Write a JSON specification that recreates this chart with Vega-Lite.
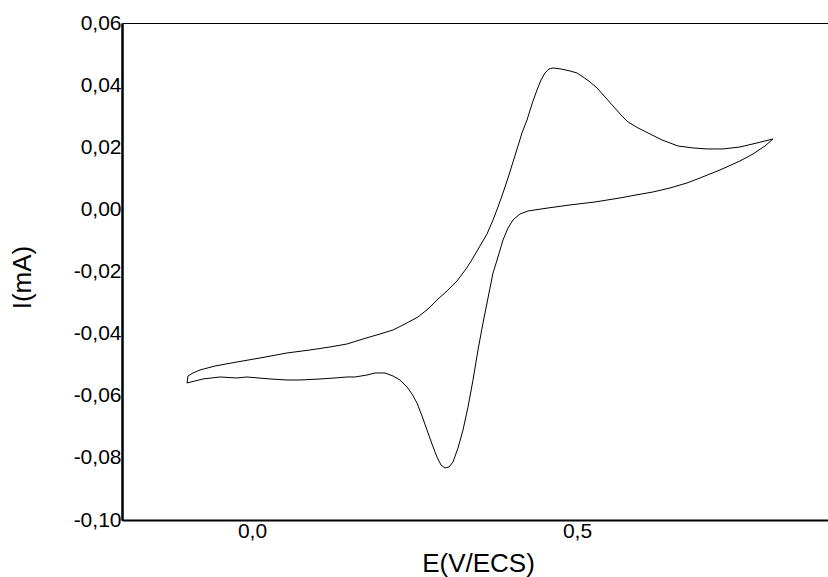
{
  "$schema": "https://vega.github.io/schema/vega-lite/v6.json",
  "width": 715,
  "height": 497,
  "autosize": "none",
  "padding": {"left": 122, "top": 23, "right": 0, "bottom": 57},
  "background": "white",
  "config": {
    "locale": {"number": {"decimal": ",", "thousands": ".", "grouping": [3], "currency": ["", ""], "minus": "-"}},
    "view": {"stroke": "#000000", "strokeWidth": 1},
    "font": "Liberation Sans"
  },
  "data": {"values": [
    {"o":1,"E":-0.1,"I":-0.05589},
    {"o":2,"E":-0.09846,"I":-0.05364},
    {"o":3,"E":-0.09077,"I":-0.05267},
    {"o":4,"E":-0.08,"I":-0.05171},
    {"o":5,"E":-0.05692,"I":-0.05042},
    {"o":6,"E":-0.02308,"I":-0.04913},
    {"o":7,"E":0.01231,"I":-0.04784},
    {"o":8,"E":0.05385,"I":-0.04623},
    {"o":9,"E":0.08923,"I":-0.04527},
    {"o":10,"E":0.12,"I":-0.0443},
    {"o":11,"E":0.14615,"I":-0.04334},
    {"o":12,"E":0.17077,"I":-0.04173},
    {"o":13,"E":0.19692,"I":-0.04012},
    {"o":14,"E":0.21692,"I":-0.03883},
    {"o":15,"E":0.23538,"I":-0.0369},
    {"o":16,"E":0.25538,"I":-0.03464},
    {"o":17,"E":0.27077,"I":-0.03207},
    {"o":18,"E":0.28462,"I":-0.02917},
    {"o":19,"E":0.3,"I":-0.02627},
    {"o":20,"E":0.31538,"I":-0.02305},
    {"o":21,"E":0.32923,"I":-0.01919},
    {"o":22,"E":0.34,"I":-0.01565},
    {"o":23,"E":0.35077,"I":-0.01178},
    {"o":24,"E":0.36154,"I":-0.00792},
    {"o":25,"E":0.37077,"I":-0.00341},
    {"o":26,"E":0.37846,"I":0.00077},
    {"o":27,"E":0.38615,"I":0.00528},
    {"o":28,"E":0.39385,"I":0.01011},
    {"o":29,"E":0.40154,"I":0.01526},
    {"o":30,"E":0.40923,"I":0.02041},
    {"o":31,"E":0.41538,"I":0.0246},
    {"o":32,"E":0.42308,"I":0.02878},
    {"o":33,"E":0.43077,"I":0.03393},
    {"o":34,"E":0.43846,"I":0.03844},
    {"o":35,"E":0.44462,"I":0.04166},
    {"o":36,"E":0.45077,"I":0.04391},
    {"o":37,"E":0.45692,"I":0.0452},
    {"o":38,"E":0.46308,"I":0.04552},
    {"o":39,"E":0.47538,"I":0.0452},
    {"o":40,"E":0.48923,"I":0.04456},
    {"o":41,"E":0.5,"I":0.04391},
    {"o":42,"E":0.50923,"I":0.04263},
    {"o":43,"E":0.52,"I":0.04102},
    {"o":44,"E":0.53077,"I":0.03909},
    {"o":45,"E":0.54308,"I":0.03619},
    {"o":46,"E":0.55538,"I":0.03329},
    {"o":47,"E":0.56769,"I":0.03039},
    {"o":48,"E":0.57846,"I":0.02814},
    {"o":49,"E":0.59385,"I":0.02621},
    {"o":50,"E":0.60923,"I":0.0246},
    {"o":51,"E":0.63077,"I":0.02234},
    {"o":52,"E":0.65538,"I":0.02041},
    {"o":53,"E":0.67846,"I":0.01977},
    {"o":54,"E":0.7,"I":0.01945},
    {"o":55,"E":0.72462,"I":0.01945},
    {"o":56,"E":0.75077,"I":0.02009},
    {"o":57,"E":0.77692,"I":0.02138},
    {"o":58,"E":0.80154,"I":0.02267},
    {"o":59,"E":0.78923,"I":0.02041},
    {"o":60,"E":0.77077,"I":0.01784},
    {"o":61,"E":0.75077,"I":0.01558},
    {"o":62,"E":0.72,"I":0.01269},
    {"o":63,"E":0.68923,"I":0.01011},
    {"o":64,"E":0.66923,"I":0.0085},
    {"o":65,"E":0.64308,"I":0.00689},
    {"o":66,"E":0.61692,"I":0.0056},
    {"o":67,"E":0.59077,"I":0.00464},
    {"o":68,"E":0.56615,"I":0.00367},
    {"o":69,"E":0.52769,"I":0.00238},
    {"o":70,"E":0.48923,"I":0.00142},
    {"o":71,"E":0.45538,"I":0.00045},
    {"o":72,"E":0.42462,"I":-0.00052},
    {"o":73,"E":0.41231,"I":-0.00148},
    {"o":74,"E":0.40154,"I":-0.00341},
    {"o":75,"E":0.39385,"I":-0.00599},
    {"o":76,"E":0.38615,"I":-0.00985},
    {"o":77,"E":0.37846,"I":-0.01533},
    {"o":78,"E":0.37077,"I":-0.02048},
    {"o":79,"E":0.36308,"I":-0.02853},
    {"o":80,"E":0.35538,"I":-0.03657},
    {"o":81,"E":0.34769,"I":-0.04527},
    {"o":82,"E":0.34,"I":-0.05493},
    {"o":83,"E":0.33231,"I":-0.06362},
    {"o":84,"E":0.32462,"I":-0.07102},
    {"o":85,"E":0.31692,"I":-0.07682},
    {"o":86,"E":0.30923,"I":-0.08133},
    {"o":87,"E":0.30308,"I":-0.08294},
    {"o":88,"E":0.29692,"I":-0.08326},
    {"o":89,"E":0.29077,"I":-0.08229},
    {"o":90,"E":0.28462,"I":-0.07972},
    {"o":91,"E":0.27692,"I":-0.07553},
    {"o":92,"E":0.26923,"I":-0.07102},
    {"o":93,"E":0.26154,"I":-0.06652},
    {"o":94,"E":0.25385,"I":-0.06233},
    {"o":95,"E":0.24615,"I":-0.05943},
    {"o":96,"E":0.23846,"I":-0.05718},
    {"o":97,"E":0.22769,"I":-0.05493},
    {"o":98,"E":0.21692,"I":-0.05364},
    {"o":99,"E":0.20462,"I":-0.05267},
    {"o":100,"E":0.18923,"I":-0.05267},
    {"o":101,"E":0.17692,"I":-0.05332},
    {"o":102,"E":0.15846,"I":-0.05396},
    {"o":103,"E":0.14615,"I":-0.05396},
    {"o":104,"E":0.12769,"I":-0.05428},
    {"o":105,"E":0.10462,"I":-0.0546},
    {"o":106,"E":0.07385,"I":-0.05493},
    {"o":107,"E":0.05385,"I":-0.05493},
    {"o":108,"E":0.02769,"I":-0.0546},
    {"o":109,"E":-0.00769,"I":-0.05396},
    {"o":110,"E":-0.02308,"I":-0.05428},
    {"o":111,"E":-0.04923,"I":-0.05396},
    {"o":112,"E":-0.07538,"I":-0.0546},
    {"o":113,"E":-0.08769,"I":-0.05525},
    {"o":114,"E":-0.1,"I":-0.05589}
  ]},
  "mark": {"type": "line", "color": "#000000", "strokeWidth": 1, "clip": true},
  "encoding": {
    "order": {"field": "o", "type": "quantitative"},
    "x": {
      "field": "E", "type": "quantitative",
      "scale": {"domain": [-0.2, 0.9], "nice": false, "zero": false},
      "axis": {
        "title": "E(V/ECS)", "values": [0, 0.5], "format": ".1f",
        "grid": false, "ticks": false, "tickSize": 0,
        "domainColor": "#000000", "domainWidth": 2,
        "labelFont": "Liberation Sans", "labelFontSize": 21, "labelColor": "#000000",
        "labelBaseline": "alphabetic", "labelPadding": 17,
        "titleFont": "Liberation Sans", "titleFontSize": 26, "titleFontWeight": "normal", "titleColor": "#000000",
        "titleX": 356, "titleY": 51, "titleBaseline": "alphabetic", "titleAlign": "center"
      }
    },
    "y": {
      "field": "I", "type": "quantitative",
      "scale": {"domain": [-0.1, 0.06], "nice": false, "zero": false},
      "axis": {
        "title": "I(mA)", "values": [-0.1, -0.08, -0.06, -0.04, -0.02, 0, 0.02, 0.04, 0.06], "format": ".2f",
        "grid": false, "ticks": false, "tickSize": 0,
        "domainColor": "#000000", "domainWidth": 2.5,
        "labelFont": "Liberation Sans", "labelFontSize": 21, "labelColor": "#000000",
        "labelPadding": 1, "labelBaseline": "middle", "labelAlign": "right",
        "titleFont": "Liberation Sans", "titleFontSize": 26, "titleFontWeight": "normal", "titleColor": "#000000",
        "titleX": -100, "titleY": 254, "titleAngle": -90, "titleBaseline": "middle", "titleAlign": "center"
      }
    }
  }
}
